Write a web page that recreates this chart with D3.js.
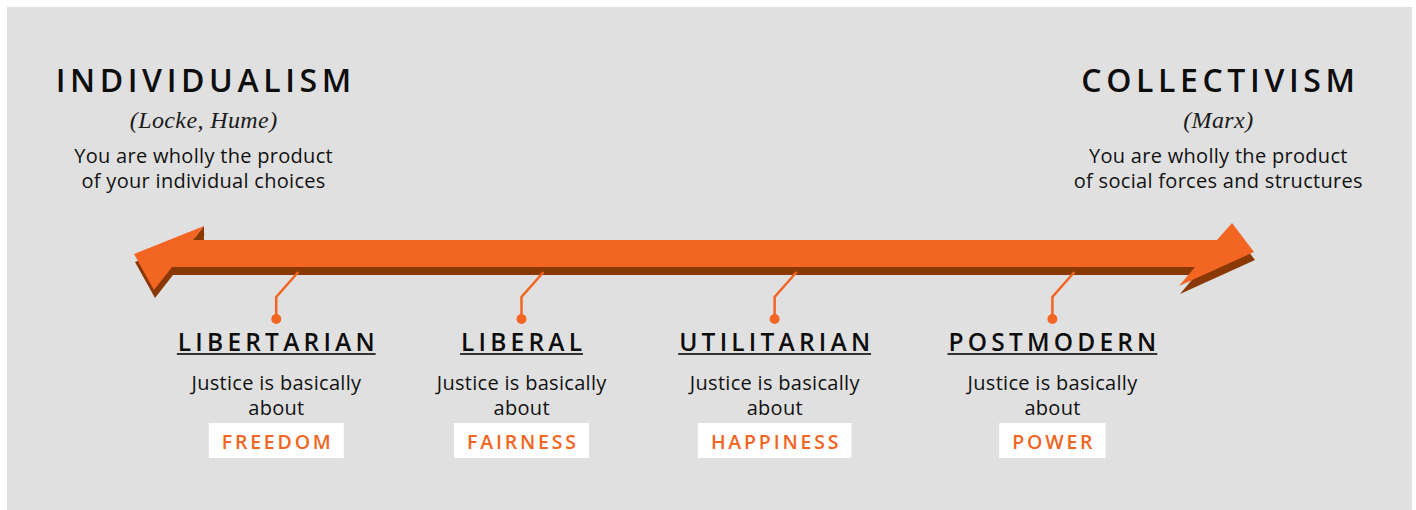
<!DOCTYPE html>
<html>
<head>
<meta charset="utf-8">
<script src="https://cdn.jsdelivr.net/npm/d3@7/dist/d3.min.js"></script>
<style>
  html, body { margin: 0; padding: 0; background: #ffffff; }
  svg { display: block; }
</style>
</head>
<body>
<svg id="chart" width="1416" height="510"></svg>
<script>
// ---- Data ----
const poles = ["INDIVIDUALISM", "COLLECTIVISM"];
const poleThinkers = ["(Locke, Hume)", "(Marx)"];
const poleLine1 = ["You are wholly the product", "You are wholly the product"];
const poleLine2 = ["of your individual choices", "of social forces and structures"];
const polePositions = [6.2, 96.8];           // position on the spectrum, 0..100
const categories = ["LIBERTARIAN", "LIBERAL", "UTILITARIAN", "POSTMODERN"];
const positions = [12.7, 34.6, 57.2, 82.0]; // position on the spectrum, 0..100
const justiceLine1 = ["Justice is basically", "Justice is basically", "Justice is basically", "Justice is basically"];
const justiceLine2 = ["about", "about", "about", "about"];
const justiceAbout = ["FREEDOM", "FAIRNESS", "HAPPINESS", "POWER"];

// ---- Styles ----
const ORANGE = "#f26522";
const DARK = "#8a3804";
const BG = "#e0e0e0";
const SANS = "'Open Sans', 'Noto Sans', sans-serif";
const SERIF = "'Liberation Serif', 'DejaVu Serif', serif";

const svg = d3.select("#chart");
const x = d3.scaleLinear().domain([0, 100]).range([134, 1254]);

// panel
svg.append("rect").attr("x", 7).attr("y", 7).attr("width", 1405).attr("height", 503).attr("fill", BG);

// ---- Arrow ----
const L = x(0), R = x(100);
const face = [
  [L, 254], [L + 70, 226], [L + 59, 240],
  [R - 37, 240], [R - 22, 223], [R, 252],
  [R - 75, 286], [R - 59, 267],
  [L + 38, 267], [L + 20, 290]
];
const depth = 8;
const line = d3.line().curve(d3.curveLinearClosed);
svg.append("path").attr("d", line(face.map(p => [p[0] + 1, p[1] + depth]))).attr("fill", DARK);
svg.append("path").attr("d", line([[L + 70, 226], [L + 70, 240], [L + 59, 240]])).attr("fill", DARK);
svg.append("path").attr("d", line(face)).attr("fill", ORANGE);

// helper: centre text ignoring trailing letter-spacing
function centred(sel, ls) {
  return sel.attr("text-anchor", "middle").attr("dx", ls / 2).style("letter-spacing", ls + "px");
}

// ---- Poles ----
const pole = svg.selectAll("g.pole").data(poles).join("g").attr("class", "pole")
  .attr("transform", (d, i) => `translate(${x(polePositions[i])},0)`);
centred(pole.append("text").attr("y", 92), 4.6)
  .style("font-family", SANS).style("font-size", "32px").style("font-weight", 600)
  .attr("fill", "#0d0d0d").text(d => d);
centred(pole.append("text").attr("y", 128), 0.4)
  .style("font-family", SERIF).style("font-size", "24px").style("font-style", "italic")
  .attr("fill", "#1a1a1a").text((d, i) => poleThinkers[i]);
centred(pole.append("text").attr("y", 163), 0.3)
  .style("font-family", SANS).style("font-size", "20px")
  .attr("fill", "#111").text((d, i) => poleLine1[i]);
centred(pole.append("text").attr("y", 188), 0.3)
  .style("font-family", SANS).style("font-size", "20px")
  .attr("fill", "#111").text((d, i) => poleLine2[i]);

// ---- Categories ----
const cat = svg.selectAll("g.cat").data(categories).join("g").attr("class", "cat")
  .attr("transform", (d, i) => `translate(${x(positions[i])},0)`);

cat.append("path")
  .attr("d", d3.line()([[22, 272], [0, 297], [0, 319]]))
  .attr("fill", "none").attr("stroke", ORANGE).attr("stroke-width", 2.5);
cat.append("circle").attr("cx", 0).attr("cy", 319).attr("r", 5).attr("fill", ORANGE);

const TLS = 4.2;
const title = centred(cat.append("text").attr("y", 351), TLS)
  .style("font-family", SANS).style("font-size", "24.5px").style("font-weight", 600)
  .attr("fill", "#0d0d0d").text(d => d);
title.each(function() {
  const w = this.getComputedTextLength() - TLS;
  d3.select(this.parentNode).append("line")
    .attr("x1", -w / 2 - 1).attr("x2", w / 2 + 1)
    .attr("y1", 354).attr("y2", 354)
    .attr("stroke", "#333").attr("stroke-width", 2);
});

centred(cat.append("text").attr("y", 390), 0.3)
  .style("font-family", SANS).style("font-size", "20px")
  .attr("fill", "#111").text((d, i) => justiceLine1[i]);
centred(cat.append("text").attr("y", 415), 0.3)
  .style("font-family", SANS).style("font-size", "20px")
  .attr("fill", "#111").text((d, i) => justiceLine2[i]);

const BLS = 2.8;
const boxG = cat.append("g");
boxG.append("rect").attr("fill", "#ffffff");
centred(boxG.append("text").attr("y", 449), BLS)
  .style("font-family", SANS).style("font-size", "19.5px").style("font-weight", 600)
  .attr("fill", ORANGE).text((d, i) => justiceAbout[i]);
boxG.each(function() {
  const t = d3.select(this).select("text").node();
  const w = t.getComputedTextLength() - BLS;
  d3.select(this).select("rect")
    .attr("x", -w / 2 - 13).attr("width", w + 26)
    .attr("y", 423).attr("height", 35);
});
</script>
</body>
</html>
